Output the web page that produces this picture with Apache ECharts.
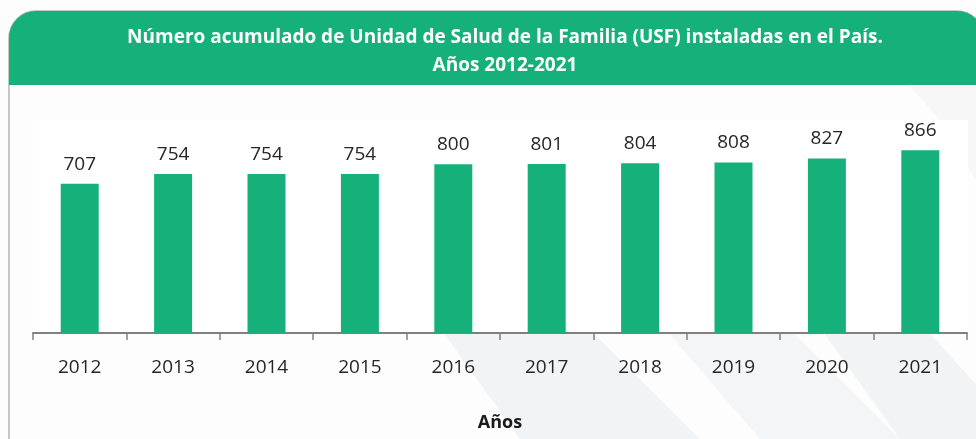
<!DOCTYPE html>
<html>
<head>
<meta charset="utf-8">
<script src="https://cdn.jsdelivr.net/npm/echarts@6/dist/echarts.min.js"></script>
<style>
  html, body { margin: 0; padding: 0; background: #fff; }
  #chart { width: 976px; height: 439px; }
</style>
</head>
<body>
<div id="chart"></div>
<script>
var years = ['2012', '2013', '2014', '2015', '2016', '2017', '2018', '2019', '2020', '2021'];
var usfTotal = [707, 754, 754, 754, 800, 801, 804, 808, 827, 866];

var green = '#16b17b';
var myChart = echarts.init(document.getElementById('chart'));

var option = {
    backgroundColor: '#fdfdfd',
    animation: false,
    title: {
        text: 'Número acumulado de Unidad de Salud de la Familia (USF) instaladas en el País.\nAños 2012-2021',
        left: 500,
        textAlign: 'center',
        top: 19,
        textStyle: {
            color: '#fff',
            fontFamily: 'Open Sans',
            fontWeight: 'bold',
            fontSize: 19,
            lineHeight: 28
        }
    },
    graphic: [
        // faint diagonal streaks in the background
        { type: 'polygon', z: -10, shape: { points: [[420, 300], [560, 300], [700, 439], [520, 439]] },
          style: { fill: '#f2f3f4' } },
        { type: 'polygon', z: -10, shape: { points: [[640, 300], [760, 300], [900, 439], [760, 439]] },
          style: { fill: '#f4f5f6' } },
        { type: 'polygon', z: -10, shape: { points: [[800, 300], [900, 300], [990, 400], [990, 439], [900, 439]] },
          style: { fill: '#f2f3f4' } },
        { type: 'polygon', z: -10, shape: { points: [[910, 86], [976, 86], [976, 180], [940, 120]] },
          style: { fill: '#f7f7f8' } },
        // white plot panel
        { type: 'rect', z: -5, shape: { x: 33, y: 120, width: 935, height: 213 },
          style: { fill: '#ffffff' } },
        // outer card border
        { type: 'rect', z: -4, shape: { x: 9, y: 11, width: 975, height: 440, r: [27, 27, 0, 0] },
          style: { fill: null, stroke: '#b5b5b5', lineWidth: 1.5 } },
        // green header
        { type: 'rect', z: -3, shape: { x: 9, y: 11, width: 975, height: 74, r: [27, 27, 0, 0] },
          style: { fill: green } }
    ],
    grid: {
        left: 33,
        right: 9,
        top: 122,
        bottom: 106
    },
    xAxis: {
        type: 'category',
        data: years,
        name: 'Años',
        nameLocation: 'middle',
        nameGap: 81,
        nameTextStyle: {
            color: '#1a1a1a',
            fontFamily: 'Open Sans',
            fontWeight: 'bold',
            fontSize: 18
        },
        axisLine: { show: true, lineStyle: { color: '#808080', width: 2 } },
        axisTick: { show: true, alignWithLabel: false, length: 7, lineStyle: { color: '#808080', width: 1.5 } },
        axisLabel: {
            margin: 25,
            color: '#262626',
            fontFamily: 'Open Sans',
            fontSize: 19
        }
    },
    yAxis: {
        type: 'value',
        min: 0,
        max: 1000,
        show: false
    },
    series: [
        {
            type: 'bar',
            data: usfTotal,
            barWidth: 38,
            itemStyle: { color: green },
            label: {
                show: true,
                position: 'top',
                distance: 10,
                color: '#262626',
                fontFamily: 'Open Sans',
                fontSize: 19
            }
        }
    ]
};

myChart.setOption(option);
</script>
</body>
</html>
